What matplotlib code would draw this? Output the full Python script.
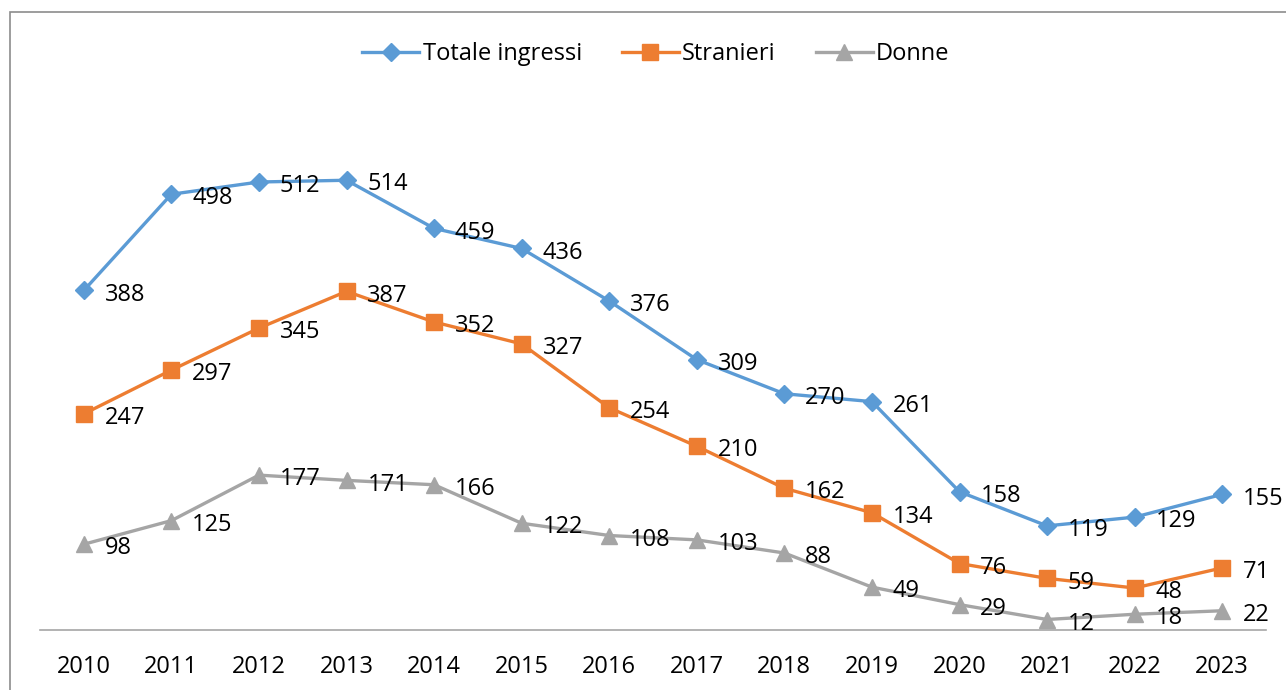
import matplotlib
matplotlib.use("Agg")
import matplotlib.pyplot as plt
from matplotlib.patches import Rectangle

years = ["2010", "2011", "2012", "2013", "2014", "2015", "2016", "2017",
         "2018", "2019", "2020", "2021", "2022", "2023"]
totale = [388, 498, 512, 514, 459, 436, 376, 309, 270, 261, 158, 119, 129, 155]
stranieri = [247, 297, 345, 387, 352, 327, 254, 210, 162, 134, 76, 59, 48, 71]
donne = [98, 125, 177, 171, 166, 122, 108, 103, 88, 49, 29, 12, 18, 22]

series_names = ["Totale ingressi", "Stranieri", "Donne"]
colors = ["#5B9BD5", "#ED7D31", "#A5A5A5"]
markers = ["D", "s", "^"]
msizes = [9, 12, 11]

plt.rcParams['font.family'] = ['Open Sans', 'DejaVu Sans']

W, H = 1286, 690
fig = plt.figure(figsize=(W / 100, H / 100), dpi=100)
# outer chart frame
fig.patches.append(Rectangle((10 / W, -0.05), 1.2, (H - 12) / H + 0.05,
                             transform=fig.transFigure, fill=False,
                             edgecolor="#8C8C8C", linewidth=1.2))

ax = fig.add_axes([40 / W, (H - 630) / H, (1266 - 40) / W, (630 - 105) / H])
x = list(range(len(years)))
for vals, name, c, m, ms in zip([totale, stranieri, donne], series_names, colors, markers, msizes):
    ax.plot(x, vals, color=c, lw=2.4, marker=m, markersize=ms, label=name,
            markeredgecolor=c, markerfacecolor=c, clip_on=False, zorder=3)
    for xi, v in zip(x, vals):
        ax.annotate(str(v), (xi, v), xytext=(15, -3), textcoords="offset points",
                    ha="left", va="center", fontsize=17, color="#000000", zorder=4)

ax.set_xlim(-0.5, len(years) - 0.5)
ax.set_ylim(0, 600)
ax.set_xticks(x)
ax.set_xticklabels(years, fontsize=17)
ax.set_yticks([])
ax.tick_params(axis="x", length=0, pad=18)
for s in ["top", "right", "left"]:
    ax.spines[s].set_visible(False)
ax.spines["bottom"].set_color("#A6A6A6")
ax.spines["bottom"].set_linewidth(1.2)
ax.patch.set_visible(False)

fig.legend(loc="center", bbox_to_anchor=(656 / W, (H - 54) / H), ncol=3,
           frameon=False, fontsize=17, handlelength=2.4, columnspacing=1.7,
           handletextpad=0.15)

fig.savefig("out.png", dpi=100)
